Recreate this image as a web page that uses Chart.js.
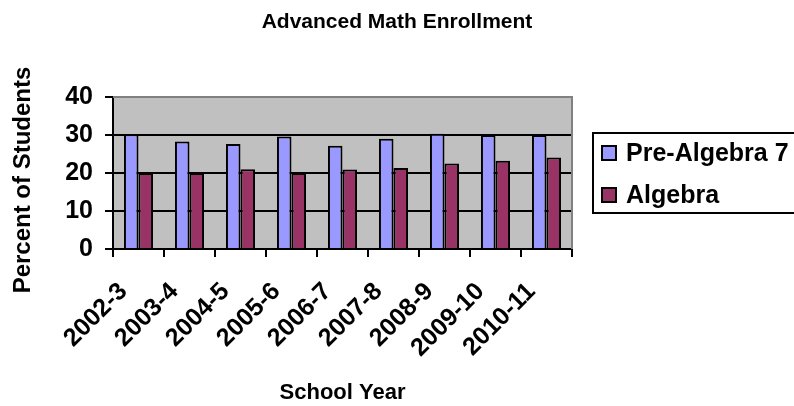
<!DOCTYPE html>
<html>
<head>
<meta charset="utf-8">
<script src="https://cdn.jsdelivr.net/npm/chart.js@4.4.1/dist/chart.umd.min.js"></script>
<style>
    body { margin: 0; background: #ffffff; }
    #wrap { width: 794px; height: 406px; }
</style>
</head>
<body>
<div id="wrap"><canvas id="enrollChart" width="794" height="406"></canvas></div>
<script>
const schoolYears = ['2002-3', '2003-4', '2004-5', '2005-6', '2006-7', '2007-8', '2008-9', '2009-10', '2010-11'];
const preAlgebra7 = [30.2, 28.3, 27.6, 29.6, 27.2, 29.0, 30.3, 30.0, 30.0];
const algebra = [20.0, 20.0, 21.0, 20.0, 20.9, 21.3, 22.5, 23.2, 24.1];
const percentTicks = [0, 10, 20, 30, 40];
const chartTitle = 'Advanced Math Enrollment';
const yAxisTitle = 'Percent of Students';

const fontFamily = '"Liberation Sans", Arial, Helvetica, sans-serif';

// grey plot area with the thin grey frame on top and right
const plotBackground = {
    id: 'plotBackground',
    beforeDraw: function (chart) {
        const a = chart.chartArea;
        const ctx = chart.ctx;
        ctx.save();
        ctx.fillStyle = '#C0C0C0';
        ctx.fillRect(a.left, a.top, a.right - a.left, a.bottom - a.top);
        ctx.restore();
    },
    afterDatasetsDraw: function (chart) {
        const a = chart.chartArea;
        const ctx = chart.ctx;
        ctx.save();
        ctx.strokeStyle = '#808080';
        ctx.lineWidth = 2;
        ctx.beginPath();
        ctx.moveTo(a.left, a.top);
        ctx.lineTo(a.right, a.top);
        ctx.lineTo(a.right, a.bottom);
        ctx.stroke();
        ctx.restore();
    }
};

// chart title centred on the whole canvas, y title sits a bit below the plot middle
const titles = {
    id: 'titles',
    afterDraw: function (chart) {
        const ctx = chart.ctx;
        ctx.save();
        ctx.fillStyle = '#000000';
        ctx.textAlign = 'center';
        ctx.textBaseline = 'middle';
        ctx.font = 'bold 21px ' + fontFamily;
        ctx.fillText(chartTitle, chart.width / 2, 22);
        ctx.translate(23, 180);
        ctx.rotate(-Math.PI / 2);
        ctx.font = 'bold 24px ' + fontFamily;
        ctx.fillText(yAxisTitle, 0, 0);
        ctx.restore();
    }
};

// boxed legend at the right, running off the edge of the canvas
const boxLegend = {
    id: 'boxLegend',
    afterDraw: function (chart) {
        const ctx = chart.ctx;
        const x = 593, y = 133, h = 80;
        ctx.save();
        ctx.fillStyle = '#ffffff';
        ctx.fillRect(x, y, 220, h);
        ctx.strokeStyle = '#000000';
        ctx.lineWidth = 2;
        ctx.strokeRect(x, y, 220, h);
        ctx.font = 'bold 25px ' + fontFamily;
        ctx.textBaseline = 'middle';
        chart.data.datasets.forEach(function (ds, i) {
            const cy = y + 20 + i * 42;
            ctx.fillStyle = ds.backgroundColor;
            ctx.fillRect(x + 9, cy - 7, 14, 14);
            ctx.strokeRect(x + 9, cy - 7, 14, 14);
            ctx.fillStyle = '#000000';
            ctx.fillText(ds.label, x + 33, cy + 1);
        });
        ctx.restore();
    }
};

function drawEnrollment() {

    const data = {
        labels: schoolYears,
        datasets: [
            {
                label: 'Pre-Algebra 7',
                backgroundColor: '#9999FF',
                borderColor: '#000000',
                borderWidth: 2,
                data: preAlgebra7
            },
            {
                label: 'Algebra',
                backgroundColor: '#993366',
                borderColor: '#000000',
                borderWidth: 2,
                data: algebra
            }
        ]
    };

    const config = {
        type: 'bar',
        data: data,
        options: {
            responsive: false,
            animation: false,
            layout: {
                padding: { left: 0, right: 222, top: 97, bottom: 0 }
            },
            datasets: {
                bar: {
                    categoryPercentage: 0.57,
                    barPercentage: 1.0
                }
            },
            scales: {
                x: {
                    afterFit: function (scale) { scale.height = 157; },
                    grid: {
                        offset: true,
                        drawOnChartArea: false,
                        color: '#000000',
                        lineWidth: 2,
                        tickLength: 8
                    },
                    border: { color: '#000000', width: 2 },
                    ticks: {
                        autoSkip: false,
                        minRotation: 45,
                        maxRotation: 45,
                        padding: 20,
                        labelOffset: -15,
                        color: '#000000',
                        font: { family: fontFamily, size: 25, weight: 'bold' }
                    },
                    title: {
                        display: true,
                        text: 'School Year',
                        color: '#000000',
                        padding: { top: 0, bottom: 0 },
                        font: { family: fontFamily, size: 22, weight: 'bold' }
                    }
                },
                y: {
                    min: 0,
                    max: 40,
                    afterFit: function (scale) { scale.width = 113; },
                    afterBuildTicks: function (scale) {
                        scale.ticks = percentTicks.map(function (v) { return { value: v }; });
                    },
                    grid: {
                        color: function (c) { return c.tick && c.tick.value === 40 ? '#808080' : '#000000'; },
                        tickColor: '#000000',
                        lineWidth: 2,
                        tickLength: 8
                    },
                    border: { color: '#000000', width: 2 },
                    ticks: {
                        padding: 12,
                        color: '#000000',
                        font: { family: fontFamily, size: 25, weight: 'bold' }
                    }
                }
            },
            plugins: {
                legend: { display: false },
                tooltip: { enabled: false },
                title: { display: false }
            }
        },
        plugins: [plotBackground, titles, boxLegend]
    };

    const enrollChart = new Chart(
        document.getElementById('enrollChart'),
        config
    );
}

drawEnrollment();
</script>
</body>
</html>
